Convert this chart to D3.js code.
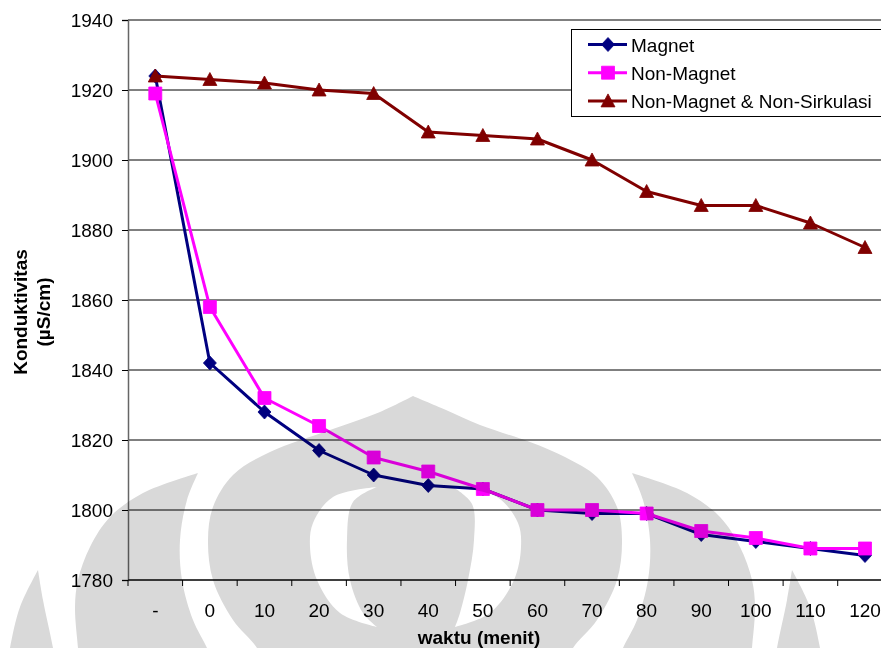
<!DOCTYPE html>
<html>
<head>
<meta charset="utf-8">
<script src="https://cdn.jsdelivr.net/npm/d3@7"></script>
<style>
  body { margin: 0; background: #fff; }
  svg { display: block; }
  text { font-family: "Liberation Sans", Arial, sans-serif; fill: #000; }
</style>
</head>
<body>
<svg id="chart" width="881" height="648"></svg>
<script>
// Conductivity readings (µS/cm) over time (minutes)
const categories = ["-", "0", "10", "20", "30", "40", "50", "60", "70", "80", "90", "100", "110", "120"];
const magnet = [1924, 1842, 1828, 1817, 1810, 1807, 1806, 1800, 1799, 1799, 1793, 1791, 1789, 1787];
const nonMagnet = [1919, 1858, 1832, 1824, 1815, 1811, 1806, 1800, 1800, 1799, 1794, 1792, 1789, 1789];
const nonMagnetNonSirkulasi = [1924, 1923, 1922, 1920, 1919, 1908, 1907, 1906, 1900, 1891, 1887, 1887, 1882, 1875];
const yTicks = [1780, 1800, 1820, 1840, 1860, 1880, 1900, 1920, 1940];
const seriesNames = ["Magnet", "Non-Magnet", "Non-Magnet & Non-Sirkulasi"];
const seriesColors = ["#000080", "#ff00ff", "#800000"];
const seriesMarkers = ["diamond", "square", "triangle"];

const svg = d3.select("#chart");
const plot = { left: 128, top: 20, bottom: 580, right: 892.3 };

const x = d3.scaleBand().domain(categories).range([plot.left, plot.right]).paddingInner(0).paddingOuter(0);
const xc = c => x(c) + x.bandwidth() / 2;
const y = d3.scaleLinear().domain([1780, 1940]).range([plot.bottom, plot.top]);

// horizontal gridlines
svg.append("g").selectAll("line").data(yTicks).join("line")
  .attr("x1", plot.left).attr("x2", plot.right)
  .attr("y1", d => Math.round(y(d))).attr("y2", d => Math.round(y(d)))
  .attr("stroke", "#000").attr("stroke-width", 1);

// y axis
const yAxis = d3.axisLeft(y).tickValues(yTicks).tickSize(6).tickPadding(9).tickFormat(d3.format("d"));
const gy = svg.append("g").attr("transform", `translate(${plot.left},0)`).call(yAxis);
gy.select(".domain").attr("stroke", "#666").attr("stroke-width", 1.5);
gy.selectAll(".tick line").attr("stroke", "#000");
gy.selectAll(".tick text").attr("font-size", 19).attr("dy", "0.36em")
  .style("font-family", '"Liberation Sans", Arial, sans-serif').attr("fill", "#000");

// x axis: ticks between categories
const gx = svg.append("g").attr("transform", `translate(0,${plot.bottom})`);
gx.append("line").attr("x1", plot.left).attr("x2", plot.right).attr("y1", 0).attr("y2", 0)
  .attr("stroke", "#000").attr("stroke-width", 1.2);
gx.selectAll(".tk").data(categories).join("line").attr("class", "tk")
  .attr("x1", d => x(d)).attr("x2", d => x(d)).attr("y1", 0).attr("y2", 6)
  .attr("stroke", "#000");
gx.selectAll(".lbl").data(categories).join("text").attr("class", "lbl")
  .attr("x", d => xc(d)).attr("y", 37).attr("text-anchor", "middle")
  .attr("font-size", 19).text(d => d);

// axis titles
svg.append("text").attr("x", 479).attr("y", 644).attr("text-anchor", "middle")
  .attr("font-size", 19).attr("font-weight", "bold").text("waktu (menit)");
const yt = svg.append("g").attr("transform", "translate(0,312) rotate(-90)");
yt.append("text").attr("x", 0).attr("y", 27).attr("text-anchor", "middle")
  .attr("font-size", 19).attr("font-weight", "bold").text("Konduktivitas");
yt.append("text").attr("x", 0).attr("y", 50).attr("text-anchor", "middle")
  .attr("font-size", 19).attr("font-weight", "bold").text("(µS/cm)");

// marker outlines, centred on the data point
const markerPath = {
  diamond: "M0,-7L6.5,0L0,7L-6.5,0Z",
  square: "M-6.5,-6.5H6.5V6.5H-6.5Z",
  triangle: "M0,-7L7,6L-7,6Z"
};
function drawMarker(g, type, cx, cy, color) {
  g.append("path").attr("d", markerPath[type])
    .attr("transform", `translate(${cx},${cy})`)
    .attr("fill", color).attr("stroke", color).attr("stroke-width", 0.8);
}

// series lines and markers
const line = d3.line().x(d => xc(d.c)).y(d => y(d.v));
[magnet, nonMagnet, nonMagnetNonSirkulasi].forEach((vals, i) => {
  const pts = vals.map((v, j) => ({ c: categories[j], v }));
  const g = svg.append("g");
  g.append("path").attr("d", line(pts)).attr("fill", "none")
    .attr("stroke", seriesColors[i]).attr("stroke-width", 3).attr("stroke-linejoin", "round");
  pts.forEach(p => drawMarker(g, seriesMarkers[i], xc(p.c), y(p.v), seriesColors[i]));
});

// legend
const lg = svg.append("g");
lg.append("rect").attr("x", 571.5).attr("y", 29.5).attr("width", 330).attr("height", 87)
  .attr("fill", "#fff").attr("stroke", "#000").attr("stroke-width", 1);
seriesNames.forEach((name, i) => {
  const cy = 44.5 + i * 28.2;
  lg.append("line").attr("x1", 588).attr("x2", 627).attr("y1", cy).attr("y2", cy)
    .attr("stroke", seriesColors[i]).attr("stroke-width", 3);
  drawMarker(lg, seriesMarkers[i], 608, cy, seriesColors[i]);
  lg.append("text").attr("x", 631).attr("y", cy + 7).attr("font-size", 19).text(name);
});

// background emblem, blended over the chart
const emblem = svg.append("g").style("mix-blend-mode", "multiply");
const curve = d3.line().curve(d3.curveCatmullRom.alpha(0.5));
function leafPath(edgeA, edgeB) {
  const a = curve(edgeA.slice().reverse());
  const b = curve(edgeB).replace(/^M/, "L");
  return a + b + "Z";
}
const mirror = pts => pts.map(p => [830 - p[0], p[1]]);

const domeLeft = [[413,396],[380,412],[330,430],[270,452],[233,475],[213,507],[208,540],[213,580],[233,620],[257,648],[262,662]];
const domeRight = [[413,396],[446,410],[480,425],[530,442],[565,457],[597,477],[617,507],[622,540],[617,580],[597,620],[573,648],[568,662]];
const crescentOuter = [[377,487],[333,497],[313,523],[310,547],[317,580],[340,613],[377,627]];
const crescentInner = [[377,487],[353,502],[347,540],[350,580],[363,613],[377,627]];
const crescentROuter = [[453,487],[497,497],[518,523],[521,547],[514,580],[490,613],[455,627]];
const crescentRInner = [[453,487],[472,504],[474,540],[468,580],[460,613],[455,627]];
const leafOuter = [[198,473],[143,493],[110,517],[90,547],[78,580],[75,607],[78,648],[79,662]];
const leafInner = [[198,473],[187,500],[180,540],[182,580],[193,620],[207,648],[212,662]];
const sideOuter = [[38,570],[20,607],[10,648],[8,662]];
const sideInner = [[38,570],[43,600],[53,648],[55,662]];

const grey = "#d9d9d9";
emblem.append("path").attr("d", leafPath(domeLeft, domeRight)).attr("fill", grey);
emblem.append("path").attr("d", leafPath(crescentOuter, crescentInner)).attr("fill", "#fff");
emblem.append("path").attr("d", leafPath(crescentROuter, crescentRInner)).attr("fill", "#fff");
emblem.append("path").attr("d", leafPath(leafOuter, leafInner)).attr("fill", grey);
emblem.append("path").attr("d", leafPath(mirror(leafOuter), mirror(leafInner))).attr("fill", grey);
emblem.append("path").attr("d", leafPath(sideOuter, sideInner)).attr("fill", grey);
emblem.append("path").attr("d", leafPath(mirror(sideOuter), mirror(sideInner))).attr("fill", grey);
</script>
</body>
</html>
